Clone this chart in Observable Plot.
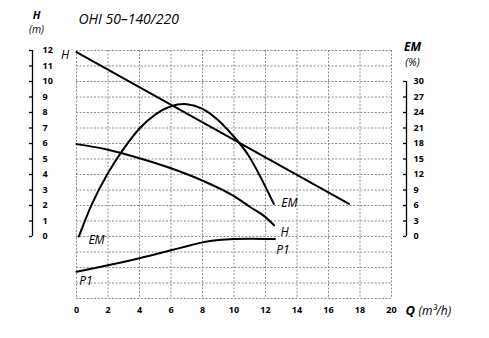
<!DOCTYPE html>
<html><head><meta charset="utf-8">
<script src="https://cdn.jsdelivr.net/npm/d3@7"></script>
<script src="https://cdn.jsdelivr.net/npm/@observablehq/plot@0.6"></script>
<style>
html,body{margin:0;padding:0;background:#fff;}
#chart svg{display:block;}
</style></head><body><div id="chart"></div>
<script>
// ---- data ----
const chartTitle = "OHI 50–140/220";
const qTicks = [0, 2, 4, 6, 8, 10, 12, 14, 16, 18, 20];
const hTicks = [0, 1, 2, 3, 4, 5, 6, 7, 8, 9, 10, 11, 12];
const emTicks = [0, 3, 6, 9, 12, 15, 18, 21, 24, 27, 30];
const gridRows = [-4, -3, -2, -1, 0, 1, 2, 3, 4, 5, 6, 7, 8, 9, 10, 11, 12];

// H (max) – straight line
const hMaxQ = [0, 17.3];
const hMaxVal = [11.9, 2.1];

// EM (%) efficiency
const emQ = [0.15, 1, 2, 3, 4, 5, 6, 7, 8, 9, 10, 11, 12, 12.53];
const emVal = [0, 6.4, 12.3, 17, 20.9, 23.6, 25.2, 25.6, 24.7, 22.5, 19.3, 15.3, 9.6, 6.3];

// H curve (starting at 6 m)
const hQ = [0, 2, 4, 6, 8, 10, 11, 12, 12.55];
const hVal = [5.96, 5.6, 5.05, 4.4, 3.6, 2.6, 1.92, 1.25, 0.72];

// P1 curve (unscaled)
const p1Q = [0, 2, 4, 6, 7, 8, 9, 10, 11, 12.6];
const p1Val = [-2.27, -1.86, -1.4, -0.89, -0.63, -0.38, -0.23, -0.16, -0.14, -0.16];

// curve labels
const labelText = ["H", "EM", "P1", "EM", "H", "P1"];
const labelQ = [-0.72, 1.27, 0.6, 13.52, 13.21, 13.11];
const labelH = [11.68, -0.26, -2.87, 2.13, 0.26, -0.87];

// ---- build ----
const rows = (qs, vs) => qs.map((q, i) => ({q, v: vs[i]}));
const hMax = rows(hMaxQ, hMaxVal);
const em = rows(emQ, emVal).map(d => ({q: d.q, v: d.v / 3})); // EM 30% ↔ 10 m
const hCurve = rows(hQ, hVal);
const p1 = rows(p1Q, p1Val);
const labels = labelText.map((t, i) => ({t, q: labelQ[i], v: labelH[i]}));

const ff = "'Open Sans', sans-serif";
const gridStyle = {stroke: "#8c8c8c", strokeOpacity: 1, strokeDasharray: "2,1.6", strokeWidth: 1};
const lineStyle = {x: "q", y: "v", stroke: "#000", strokeWidth: 2, curve: "monotone-x"};

const chart = Plot.plot({
  width: 489,
  height: 338,
  marginLeft: 76,
  marginRight: 98,
  marginTop: 50,
  marginBottom: 40,
  x: {domain: [0, 20], label: null},
  y: {domain: [-4, 12], label: null},
  style: {fontFamily: ff, background: "#fff", color: "#000", overflow: "visible"},
  marks: [
    Plot.gridX(qTicks, gridStyle),
    Plot.gridY(gridRows, gridStyle),
    Plot.axisX(qTicks, {tickSize: 0, tickPadding: 8, fontWeight: "bold", fontSize: 9, label: null}),
    // left H axis (bracket to the left of plot)
    Plot.ruleX([0], {y1: 0, y2: 12, dx: -44, stroke: "#000", strokeWidth: 1.3}),
    Plot.axisY(hTicks, {anchor: "left", dx: -44, tickSize: 3, tickPadding: -13, textAnchor: "start",
      fontWeight: "bold", fontSize: 9, strokeWidth: 1.3, label: null}),
    // right EM axis
    Plot.ruleX([0], {y1: 0, y2: 10, dx: 330, stroke: "#000", strokeWidth: 1.3}),
    Plot.axisY(emTicks.map(v => v / 3), {anchor: "left", dx: 330, tickSize: 3, tickPadding: -10, textAnchor: "start",
      tickFormat: d => String(Math.round(d * 3)), fontWeight: "bold", fontSize: 9, strokeWidth: 1.3, label: null}),
    // curves
    Plot.line(hMax, {...lineStyle, curve: "linear"}),
    Plot.line(em, {...lineStyle, curve: "natural"}),
    Plot.line(hCurve, lineStyle),
    Plot.line(p1, lineStyle),
    // curve labels
    Plot.text(labels, {x: "q", y: "v", text: "t", fontStyle: "italic", fontSize: 12, lineAnchor: "middle", fill: "#000"}),
    // titles
    Plot.text([chartTitle], {frameAnchor: "top-left", dx: 2, dy: -31, textAnchor: "start", lineAnchor: "middle",
      fontStyle: "italic", fontSize: 14, fill: "#000"}),
    Plot.text(["H"], {frameAnchor: "top-left", dx: -40, dy: -35, textAnchor: "middle", lineAnchor: "middle",
      fontStyle: "italic", fontWeight: "bold", fontSize: 11, fill: "#000"}),
    Plot.text(["(m)"], {frameAnchor: "top-left", dx: -40, dy: -21, textAnchor: "middle", lineAnchor: "middle",
      fontStyle: "italic", fontSize: 10.5, fill: "#000"}),
    Plot.text(["EM"], {frameAnchor: "top-right", dx: 21, dy: -3, textAnchor: "middle", lineAnchor: "middle",
      fontStyle: "italic", fontWeight: "bold", fontSize: 12, fill: "#000"}),
    Plot.text(["(%)"], {frameAnchor: "top-right", dx: 21, dy: 12.5, textAnchor: "middle", lineAnchor: "middle",
      fontStyle: "italic", fontSize: 10.5, fill: "#000"}),
    Plot.text(["Q"], {frameAnchor: "bottom-right", dx: 14, dy: 12.7, textAnchor: "start", lineAnchor: "middle",
      fontStyle: "italic", fontWeight: "bold", fontSize: 13, fill: "#000"}),
    Plot.text(["(m³/h)"], {frameAnchor: "bottom-right", dx: 27, dy: 12.7, textAnchor: "start", lineAnchor: "middle",
      fontStyle: "italic", fontSize: 12, fill: "#000"})
  ]
});
document.getElementById("chart").appendChild(chart);
</script>
</body></html>
